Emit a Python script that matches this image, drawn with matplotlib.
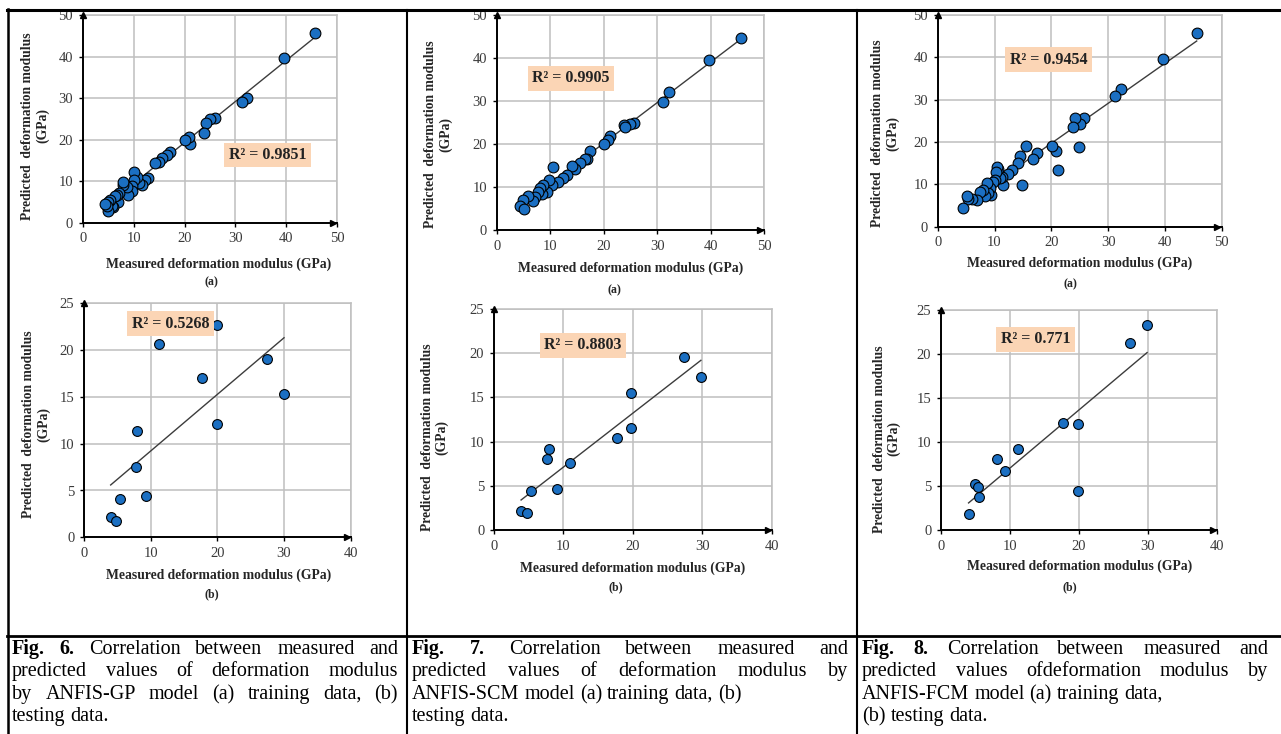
import matplotlib
matplotlib.use('Agg')
import matplotlib.pyplot as plt
import numpy as np
from matplotlib.lines import Line2D

plt.rcParams['font.family'] = ['Liberation Serif', 'DejaVu Serif']

# ---------------- data ----------------
gp_train_x = [45.6, 39.6, 32.2, 31.2, 26.0, 25.0, 24.2, 23.9, 21.1, 20.8, 20.0, 17.2, 16.5, 15.5,
              14.9, 14.2, 12.9, 12.3, 11.6, 11.0, 10.6, 10.1, 10.0, 9.6, 9.6, 8.9, 8.7, 8.0, 7.9,
              7.1, 7.0, 6.7, 6.4, 6.0, 5.7, 5.4, 5.0, 5.0, 4.7, 4.4]
gp_train_y = [45.6, 39.6, 29.9, 29.0, 25.1, 25.0, 23.9, 21.7, 19.0, 20.7, 19.9, 17.1, 16.3, 15.5,
              14.7, 14.3, 10.7, 10.3, 9.1, 9.5, 11.1, 12.3, 10.3, 8.8, 7.6, 6.6, 8.7, 9.1, 9.8,
              7.2, 5.0, 6.7, 6.5, 3.7, 3.9, 5.5, 5.1, 2.9, 3.9, 4.5]

scm_train_x = [45.7, 39.7, 32.3, 31.2, 25.7, 24.9, 23.9, 24.0, 21.2, 20.8, 20.1, 17.4, 16.8, 16.5,
               15.6, 14.6, 14.1, 13.1, 12.4, 11.5, 10.6, 10.3, 9.8, 9.4, 8.7, 8.4, 8.1, 7.8, 7.2,
               6.8, 5.9, 5.0, 4.3, 5.2]
scm_train_y = [44.7, 39.6, 32.1, 29.8, 25.0, 24.7, 24.4, 23.9, 22.0, 21.0, 20.0, 18.5, 16.6, 16.5,
               15.5, 14.2, 14.8, 12.8, 12.2, 11.3, 14.7, 10.5, 11.6, 8.9, 10.5, 8.5, 9.8, 8.9, 7.8,
               6.8, 7.9, 7.0, 5.7, 5.0]

fcm_train_x = [45.6, 39.6, 32.2, 31.2, 25.8, 25.0, 24.2, 23.9, 24.9, 21.1, 20.8, 20.1, 17.4, 16.7,
               15.5, 14.8, 14.5, 14.1, 13.0, 12.4, 11.5, 11.3, 11.0, 10.7, 10.4, 10.3, 10.1, 9.8,
               9.3, 9.2, 8.9, 8.7, 8.3, 8.0, 7.4, 6.9, 6.0, 5.4, 5.1, 4.4]
fcm_train_y = [45.7, 39.6, 32.4, 30.9, 25.7, 24.3, 25.7, 23.6, 18.7, 13.5, 17.9, 19.1, 17.4, 16.0,
               19.1, 9.8, 16.8, 15.1, 13.5, 12.5, 9.8, 11.8, 11.4, 13.6, 14.2, 12.9, 11.0, 10.6,
               7.6, 9.2, 7.9, 10.2, 7.2, 8.7, 8.3, 6.3, 6.5, 6.6, 7.2, 4.3]

gp_test_x = [20.0, 11.2, 27.4, 17.7, 30.0, 19.9, 8.0, 7.75, 9.25, 5.4, 4.0, 4.8]
gp_test_y = [22.7, 20.6, 19.1, 17.0, 15.3, 12.1, 11.4, 7.5, 4.4, 4.1, 2.2, 1.7]

scm_test_x = [27.3, 29.8, 19.8, 19.8, 17.7, 7.9, 7.6, 11.0, 9.1, 5.3, 3.9, 4.75]
scm_test_y = [19.6, 17.3, 15.5, 11.6, 10.4, 9.2, 8.0, 7.6, 4.6, 4.45, 2.1, 1.9]

fcm_test_x = [29.9, 27.4, 17.7, 19.9, 11.2, 8.1, 9.3, 4.9, 5.3, 5.5, 19.9, 4.0]
fcm_test_y = [23.3, 21.3, 12.2, 12.0, 9.2, 8.1, 6.7, 5.2, 4.9, 3.7, 4.45, 1.8]

r2_labels = ['R² = 0.9851', 'R² = 0.9905', 'R² = 0.9454', 'R² = 0.5268', 'R² = 0.8803', 'R² = 0.771']
sub_labels = ['(a)', '(a)', '(a)', '(b)', '(b)', '(b)']
xlabel_text = 'Measured deformation modulus (GPa)'
ylabel_text = 'Predicted  deformation modulus\n(GPa)'
train_ticks = [0, 10, 20, 30, 40, 50]
test_xticks = [0, 10, 20, 30, 40]
test_yticks = [0, 5, 10, 15, 20, 25]

captions = [
    [("Fig. 6.", "Correlation between measured and"),
     ("", "predicted values of deformation modulus"),
     ("", "by ANFIS-GP model (a) training data, (b)"),
     ("", "testing data.")],
    [("Fig. 7.", "Correlation between measured and"),
     ("", "predicted values of deformation modulus by"),
     ("", "ANFIS-SCM model (a) training data, (b)"),
     ("", "testing data.")],
    [("Fig. 8.", "Correlation between measured and"),
     ("", "predicted values ofdeformation modulus by"),
     ("", "ANFIS-FCM model (a) training data,"),
     ("", "(b) testing data.")],
]
justify_flags = [[True, True, True, False], [True, True, False, False], [True, True, False, False]]

# ---------------- layout ----------------
W, H = 1281, 734
fig = plt.figure(figsize=(W / 100, H / 100), dpi=100)

MARKER_C = '#1B6FC2'
GRID_C = '#BFBFBF'
TICK_C = '#3A3A3A'
BOX_C = '#FBD5B5'

# (left, top, right, bottom) in pixels
panels = [
    dict(rect=(82.7, 15.0, 337.3, 222.7), x=gp_train_x, y=gp_train_y, xt=train_ticks, yt=train_ticks,
         r2=(36.3, 16.3), yl=(-0.187, 0.466), xl=(0.535, -0.199), sl=(0.504, -0.286), s=60),
    dict(rect=(496.7, 15.4, 764.0, 230.0), x=scm_train_x, y=scm_train_y, xt=train_ticks, yt=train_ticks,
         r2=(13.9, 35.3), yl=(-0.220, 0.445), xl=(0.502, -0.177), sl=(0.44, -0.28), s=60),
    dict(rect=(937.7, 14.9, 1221.7, 226.7), x=fcm_train_x, y=fcm_train_y, xt=train_ticks, yt=train_ticks,
         r2=(19.5, 39.4), yl=(-0.184, 0.442), xl=(0.501, -0.173), sl=(0.466, -0.272), s=60),
    dict(rect=(84.0, 303.3, 350.7, 537.3), x=gp_test_x, y=gp_test_y, xt=test_xticks, yt=test_yticks,
         r2=(13.0, 22.8), yl=(-0.180, 0.482), xl=(0.505, -0.164), sl=(0.481, -0.242), s=50),
    dict(rect=(494.0, 309.1, 771.7, 530.0), x=scm_test_x, y=scm_test_y, xt=test_xticks, yt=test_yticks,
         r2=(12.8, 20.9), yl=(-0.214, 0.421), xl=(0.50, -0.171), sl=(0.439, -0.261), s=50),
    dict(rect=(941.0, 310.0, 1216.7, 530.0), x=fcm_test_x, y=fcm_test_y, xt=test_xticks, yt=test_yticks,
         r2=(13.7, 21.7), yl=(-0.197, 0.414), xl=(0.504, -0.167), sl=(0.468, -0.262), s=50),
]

for i, p in enumerate(panels):
    l, t, r, b = p['rect']
    ax = fig.add_axes([l / W, 1 - b / H, (r - l) / W, (b - t) / H])
    xt, yt = p['xt'], p['yt']
    ax.set_xlim(xt[0], xt[-1])
    ax.set_ylim(yt[0], yt[-1])
    ax.set_xticks(xt)
    ax.set_yticks(yt)
    ax.grid(True, color=GRID_C, lw=1.1)
    ax.set_axisbelow(True)
    for s in ['top', 'right']:
        ax.spines[s].set_color(GRID_C)
        ax.spines[s].set_linewidth(1.1)
    for s in ['left', 'bottom']:
        ax.spines[s].set_color('black')
        ax.spines[s].set_linewidth(1.4)
    ax.tick_params(direction='out', length=3, width=1, color='black', labelsize=10.5,
                   labelcolor=TICK_C, pad=4)
    # arrows
    ax.plot(0, 1.0, marker='^', ms=5, color='black', transform=ax.transAxes, clip_on=False, zorder=5)
    ax.plot(0.985, 0, marker='>', ms=5, color='black', transform=ax.transAxes, clip_on=False, zorder=5)

    xs = np.array(p['x'])
    ys = np.array(p['y'])
    k, c = np.polyfit(xs, ys, 1)
    xx = np.array([xs.min(), xs.max()])
    ax.plot(xx, k * xx + c, color='#3C3C3C', lw=1.0, zorder=2)
    ax.scatter(xs, ys, s=p['s'], facecolor=MARKER_C, edgecolor='black', linewidth=0.8, zorder=3)

    ax.text(p['r2'][0], p['r2'][1], r2_labels[i], ha='center', va='center', fontsize=11.5,
            fontweight='bold', color='#222222', zorder=6,
            bbox=dict(boxstyle='square,pad=0.28', fc=BOX_C, ec='none'))
    ax.text(p['yl'][0], p['yl'][1], ylabel_text, rotation=90, ha='center', va='center',
            multialignment='center', fontsize=9.8, fontweight='bold', color='#262626',
            transform=ax.transAxes, linespacing=1.15)
    ax.text(p['xl'][0], p['xl'][1], xlabel_text, ha='center', va='center', fontsize=9.8,
            fontweight='bold', color='#262626', transform=ax.transAxes)
    ax.text(p['sl'][0], p['sl'][1], sub_labels[i], ha='center', va='center', fontsize=8.5,
            fontweight='bold', color='#262626', transform=ax.transAxes)

# ---------------- frame lines ----------------
def hline(y, x0, x1, lw):
    fig.add_artist(Line2D([x0 / W, x1 / W], [1 - y / H, 1 - y / H], color='black', lw=lw))

def vline(x, y0, y1, lw):
    fig.add_artist(Line2D([x / W, x / W], [1 - y0 / H, 1 - y1 / H], color='black', lw=lw))

hline(10, 7, W, 2.2)
hline(636, 7, W, 2.0)
vline(8, 9, H, 1.8)
vline(407, 10, H, 1.5)
vline(857, 10, H, 1.5)

# ---------------- captions ----------------
renderer = fig.canvas.get_renderer()
CAP_FS = 14.5
col_bounds = [(12, 398), (412, 848), (862, 1268)]
baselines = [654, 676, 699, 721]


def text_width(s, weight):
    t = fig.text(0, 0, s, fontsize=CAP_FS, fontweight=weight)
    w = t.get_window_extent(renderer).width
    t.remove()
    return w


space_w = text_width('a a', 'normal') - text_width('aa', 'normal')

for ci, col in enumerate(captions):
    x0, x1 = col_bounds[ci]
    for li, (bold_part, rest) in enumerate(col):
        words = []
        if bold_part:
            words += [(w, 'bold') for w in bold_part.split()]
        words += [(w, 'normal') for w in rest.split()]
        widths = [text_width(w, wt) for w, wt in words]
        if justify_flags[ci][li] and len(words) > 1:
            gap = (x1 - x0 - sum(widths)) / (len(words) - 1)
        else:
            gap = space_w
        x = x0
        for (w, wt), wd in zip(words, widths):
            fig.text(x / W, 1 - baselines[li] / H, w, fontsize=CAP_FS, fontweight=wt,
                     ha='left', va='baseline', color='black')
            x += wd + gap

fig.savefig('out.png', dpi=100)
